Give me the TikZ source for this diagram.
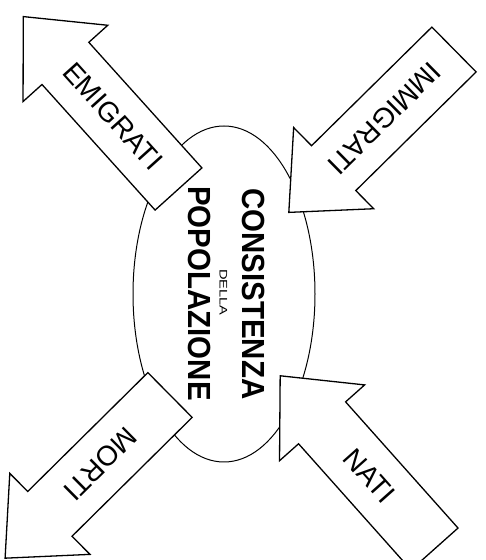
\documentclass[tikz,border=0pt]{standalone}
\usepackage{fontspec}
\setmainfont{Liberation Sans}
\newfontfamily\popfont{Liberation Sans}[FakeStretch=0.92]
\newfontfamily\dellafont{Liberation Sans}[FakeStretch=1.33]
\tikzset{
  popx/.style={x=1pt,y=1pt},
  bigarrow/.style={draw=black, line width=1.3pt, fill=white, line join=miter},
  arrowlabel/.style={font=\fontsize{28}{30}\selectfont, inner sep=0pt},
  poptext/.style={font=\popfont\bfseries\fontsize{32}{34}\selectfont, inner sep=0pt, rotate=-90},
  dellatext/.style={font=\dellafont\fontsize{11}{12}\selectfont, inner sep=0pt, rotate=-90},
  popellipse/.style={draw=black, line width=1pt}
}
\newcommand\popArrow[5]{% #1 name, #2 tail, #3 angle, #4 label, #5 label rotation
  \begin{scope}[shift={#2}, rotate=#3]
    \draw[bigarrow] (0,-31.5) -- (169,-31.5) -- (169,-57) -- (232,0) -- (169,57) -- (169,31.5) -- (0,31.5) -- cycle;
    \node[arrowlabel, rotate=#5] (#1) at (98,0) {#4};
  \end{scope}}
\begin{document}
\begin{tikzpicture}[popx]
  \useasboundingbox (0,0) rectangle (485,560);
  \clip (0,0) rectangle (485,560);
  \fill[white] (0,0) rectangle (485,560);
  \draw[popellipse] (224,266) ellipse [x radius=91, y radius=168];
  \node[poptext] (cons) at (253.5,266) {CONSISTENZA};
  \node[dellatext] (della) at (223.5,267.5) {DELLA};
  \node[poptext] (popo) at (200,266.5) {POPOLAZIONE};
  \popArrow{emi}{(178.5,371)}{132}{EMIGRATI}{-48}
  \popArrow{imm}{(454,510.5)}{224.6}{IMMIGRATI}{224.6}
  \popArrow{nati}{(434.5,11)}{131.7}{NATI}{-48.3}
  \popArrow{morti}{(170,165)}{224.7}{MORTI}{224.7}
\end{tikzpicture}
\end{document}
